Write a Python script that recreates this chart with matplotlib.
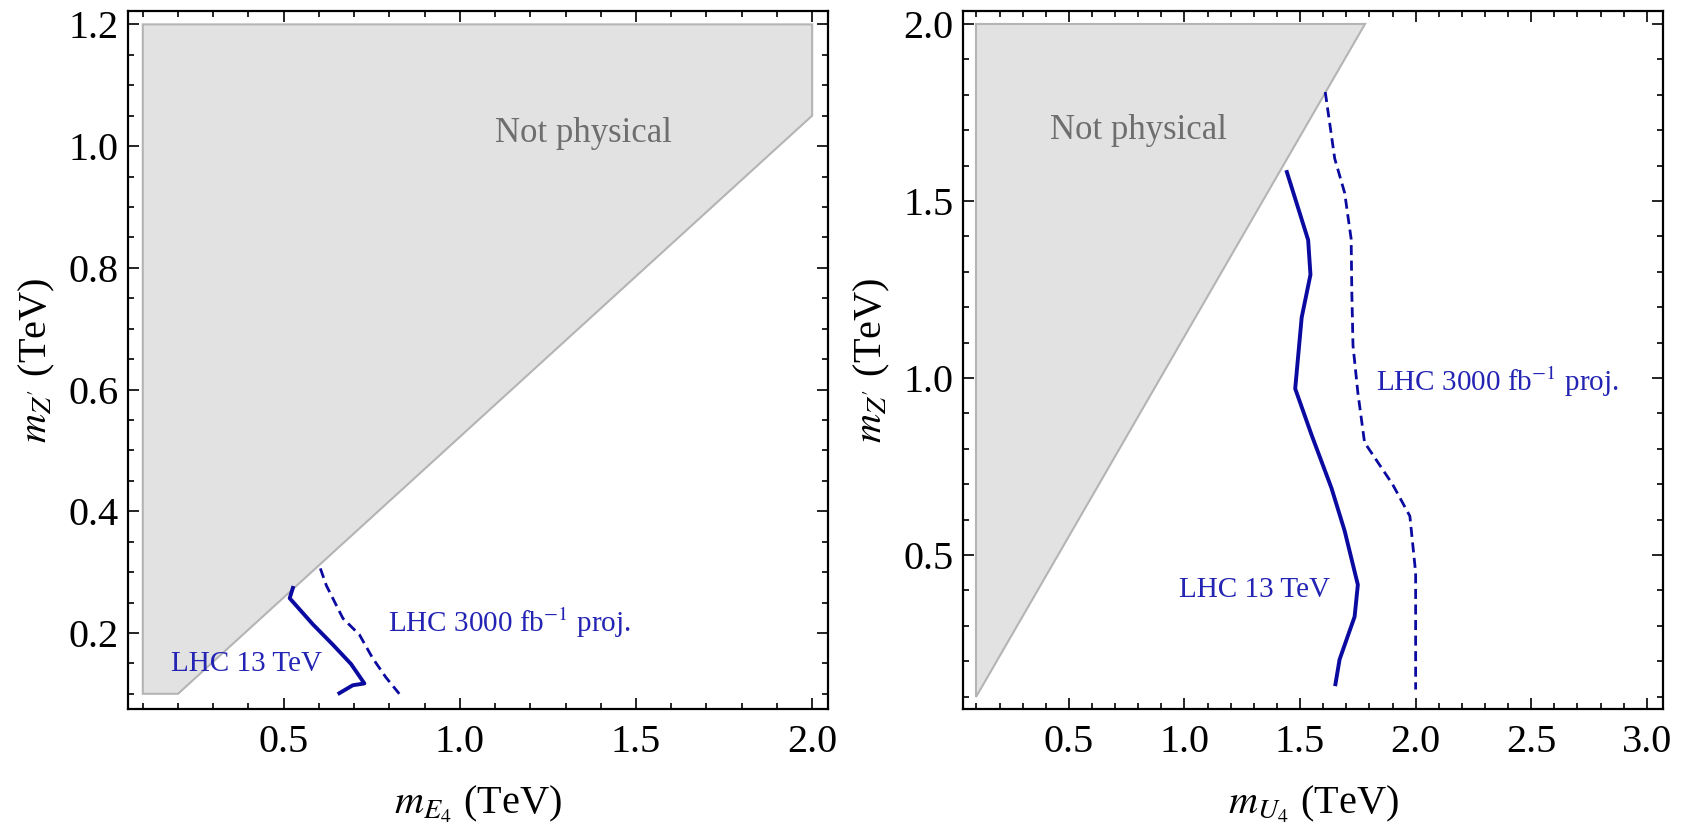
from __future__ import annotations

import matplotlib

matplotlib.use("Agg")
import matplotlib.pyplot as plt
from matplotlib.patches import Polygon
from matplotlib.ticker import MultipleLocator

plt.rcParams["font.family"] = ["Liberation Serif", "DejaVu Serif"]
plt.rcParams["mathtext.fontset"] = "stix"

FIG_W, FIG_H = 1685, 826

# --- left panel: m_E4 vs m_Z' ---
E4_NOTPHYS_X = [0.1, 0.1, 2.0, 2.0, 0.2]
E4_NOTPHYS_Y = [0.1, 1.2, 1.2, 1.05, 0.1]

E4_LHC13_X = [0.526, 0.517, 0.583, 0.639, 0.691, 0.729, 0.696, 0.658]
E4_LHC13_Y = [0.274, 0.257, 0.214, 0.181, 0.149, 0.117, 0.114, 0.101]

E4_HL_X = [0.604, 0.621, 0.668, 0.715, 0.752, 0.790, 0.828]
E4_HL_Y = [0.306, 0.278, 0.224, 0.197, 0.159, 0.127, 0.100]

# --- right panel: m_U4 vs m_Z' ---
U4_NOTPHYS_X = [0.1, 0.1, 1.78]
U4_NOTPHYS_Y = [0.1, 2.0, 2.0]

U4_LHC13_X = [1.443, 1.535, 1.545, 1.507, 1.479, 1.550, 1.636, 1.693, 1.750, 1.736, 1.671, 1.653]
U4_LHC13_Y = [1.582, 1.390, 1.292, 1.171, 0.970, 0.839, 0.689, 0.568, 0.416, 0.326, 0.205, 0.135]

U4_HL_X = [1.609, 1.650, 1.693, 1.721, 1.724, 1.729, 1.750, 1.779, 1.900, 1.975, 2.000, 2.000]
U4_HL_Y = [1.808, 1.620, 1.523, 1.393, 1.241, 1.092, 0.959, 0.818, 0.700, 0.610, 0.450, 0.120]

LINE_COLOR = "#0a0aa0"
TEXT_BLUE = "#2323b4"
TEXT_GRAY = "#6e6e6e"
FILL_COLOR = "#e2e2e2"
EDGE_COLOR = "#b4b4b4"


def px_axes(fig, left, top, right, bottom):
    return fig.add_axes(
        [left / FIG_W, 1 - bottom / FIG_H, (right - left) / FIG_W, (bottom - top) / FIG_H]
    )


def style_axes(ax, xmajor, ymajor, xminor, yminor) -> None:
    ax.xaxis.set_major_locator(MultipleLocator(xmajor))
    ax.yaxis.set_major_locator(MultipleLocator(ymajor))
    ax.xaxis.set_minor_locator(MultipleLocator(xminor))
    ax.yaxis.set_minor_locator(MultipleLocator(yminor))
    ax.tick_params(which="both", direction="in", top=True, right=True, width=1.2)
    ax.tick_params(which="major", length=8, labelsize=29)
    ax.tick_params(which="minor", length=4.5)
    ax.tick_params(axis="x", which="major", pad=11)
    ax.tick_params(axis="y", which="major", pad=7)
    for sp in ax.spines.values():
        sp.set_linewidth(1.6)


def draw_panel(ax, nx, ny, sx, sy, dx, dy) -> None:
    ax.add_patch(
        Polygon(list(zip(nx, ny)), closed=True, facecolor=FILL_COLOR,
                edgecolor=EDGE_COLOR, linewidth=1.5, zorder=1)
    )
    ax.plot(sx, sy, color=LINE_COLOR, lw=2.8, solid_joinstyle="round", zorder=3)
    ax.plot(dx, dy, color=LINE_COLOR, lw=2.0, dashes=(3.6, 2.0), zorder=3)


def label_axes(ax, xlabel) -> None:
    ax.set_xlabel(xlabel, fontsize=29)
    ax.set_ylabel(r"$m_{Z'}$ (TeV)", fontsize=29)
    ax.xaxis.set_label_coords(0.5, -0.107)
    ax.yaxis.set_label_coords(-0.101, 0.5)


def main() -> None:
    fig = plt.figure(figsize=(FIG_W / 100, FIG_H / 100), dpi=100)

    ax1 = px_axes(fig, 128, 11, 828, 709)
    draw_panel(ax1, E4_NOTPHYS_X, E4_NOTPHYS_Y, E4_LHC13_X, E4_LHC13_Y, E4_HL_X, E4_HL_Y)
    ax1.set_xlim(0.058, 2.045)
    ax1.set_ylim(0.075, 1.222)
    style_axes(ax1, 0.5, 0.2, 0.1, 0.05)
    ax1.text(1.35, 1.02, "Not physical", color=TEXT_GRAY, fontsize=25, ha="center", va="center")
    ax1.text(0.181, 0.149, "LHC 13 TeV", color=TEXT_BLUE, fontsize=21, ha="left", va="center")
    ax1.text(0.795, 0.216, r"LHC 3000 fb$^{-1}$ proj.", color=TEXT_BLUE, fontsize=21,
             ha="left", va="center")
    label_axes(ax1, r"$m_{E_4}$ (TeV)")

    ax2 = px_axes(fig, 963, 11, 1663, 709)
    draw_panel(ax2, U4_NOTPHYS_X, U4_NOTPHYS_Y, U4_LHC13_X, U4_LHC13_Y, U4_HL_X, U4_HL_Y)
    ax2.set_xlim(0.042, 3.07)
    ax2.set_ylim(0.065, 2.037)
    style_axes(ax2, 0.5, 0.5, 0.1, 0.1)
    ax2.text(0.80, 1.70, "Not physical", color=TEXT_GRAY, fontsize=25, ha="center", va="center")
    ax2.text(1.63, 0.40, "LHC 13 TeV", color=TEXT_BLUE, fontsize=21, ha="right", va="center")
    ax2.text(1.83, 0.99, r"LHC 3000 fb$^{-1}$ proj.", color=TEXT_BLUE, fontsize=21,
             ha="left", va="center")
    label_axes(ax2, r"$m_{U_4}$ (TeV)")

    fig.savefig("out.png", dpi=100)
    plt.close(fig)


if __name__ == "__main__":
    main()
